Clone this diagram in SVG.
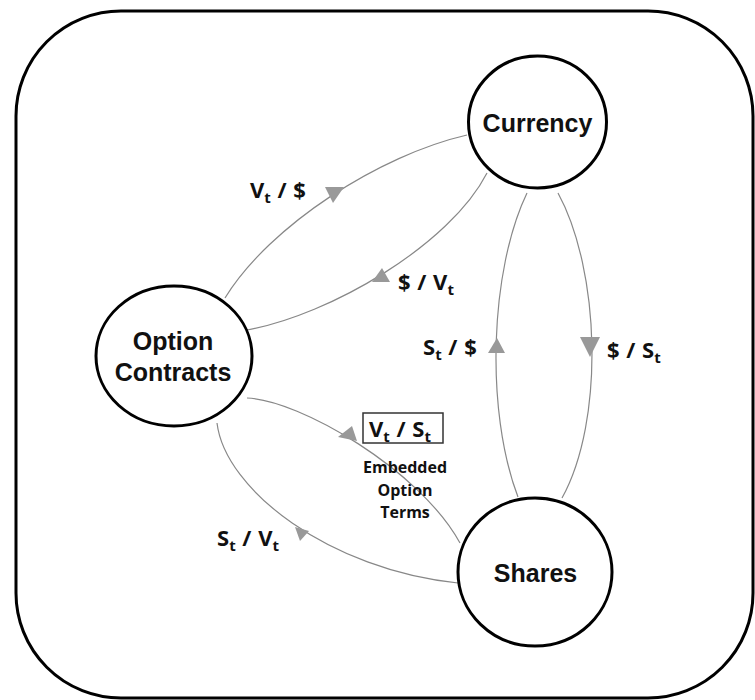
<svg xmlns="http://www.w3.org/2000/svg" width="755" height="700" viewBox="0 0 755 700">
<style>
.node{fill:#fff;stroke:#000;stroke-width:3}
.nt{font-family:"Liberation Sans",Arial,sans-serif;font-weight:bold;font-size:25px;fill:#111;text-anchor:middle}
.edge{fill:none;stroke:#888;stroke-width:1.2}
.arr{fill:#999;stroke:none}
.lab{font-family:"Open Sans","Noto Sans",sans-serif;font-weight:bold;font-size:22px;fill:#111;word-spacing:1px}
.sub{font-size:15px}
.small{font-family:"Open Sans","Noto Sans",sans-serif;font-weight:bold;font-size:16px;fill:#111;text-anchor:middle}
</style>
<rect x="16" y="11" width="737" height="687" rx="105" ry="105" fill="#fff" stroke="#000" stroke-width="3"/>
<g id="connectors">
<path class="edge" d="M225,298 C270,225 380,155 467,135"/>
<polygon class="arr" points="325,187 344,187 333,203"/>
<path class="edge" d="M487,173 C450,245 330,315 247,330"/>
<polygon class="arr" points="382,268 372,282 390,282"/>
<path class="edge" d="M527,193 C490,270 485,410 518,497"/>
<polygon class="arr" points="497,338 488,353 505,353"/>
<path class="edge" d="M558,193 C600,270 605,420 562,498"/>
<polygon class="arr" points="580,337 600,337 590,357"/>
<path class="edge" d="M247,398 C300,400 420,470 460,543"/>
<polygon class="arr" points="338,437 352,426 357,441"/>
<path class="edge" d="M217,423 C225,490 330,570 458,583"/>
<polygon class="arr" points="295,527 309,531 300,541"/>
</g>
<g id="labels">
<text class="lab" x="250" y="198">V<tspan class="sub" dy="5">t</tspan><tspan dy="-5"> / $</tspan></text>
<text class="lab" x="398" y="290">$ / V<tspan class="sub" dy="5">t</tspan></text>
<text class="lab" x="423" y="355">S<tspan class="sub" dy="5">t</tspan><tspan dy="-5"> / $</tspan></text>
<text class="lab" x="607" y="358">$ / S<tspan class="sub" dy="5">t</tspan></text>
<text class="lab" x="217" y="546">S<tspan class="sub" dy="5">t</tspan><tspan dy="-5"> / V</tspan><tspan class="sub" dy="5">t</tspan></text>
</g>
<g id="embedded">
<rect x="363" y="413" width="80" height="30" fill="none" stroke="#333" stroke-width="1.5"/>
<text class="lab" x="369" y="437">V<tspan class="sub" dy="5">t</tspan><tspan dy="-5"> / S</tspan><tspan class="sub" dy="5">t</tspan></text>
<text class="small" x="405" y="473">Embedded</text>
<text class="small" x="405" y="496">Option</text>
<text class="small" x="405" y="518">Terms</text>
</g>
<g id="currency">
<ellipse class="node" cx="537.5" cy="122" rx="69" ry="66"/>
<text class="nt" x="537.5" y="132">Currency</text>
</g>
<g id="option-contracts">
<ellipse class="node" cx="174" cy="356" rx="78" ry="70"/>
<text class="nt" x="173" y="350">Option</text>
<text class="nt" x="173" y="381">Contracts</text>
</g>
<g id="shares">
<ellipse class="node" cx="535" cy="572" rx="77" ry="74"/>
<text class="nt" x="535.5" y="582">Shares</text>
</g>
</svg>
